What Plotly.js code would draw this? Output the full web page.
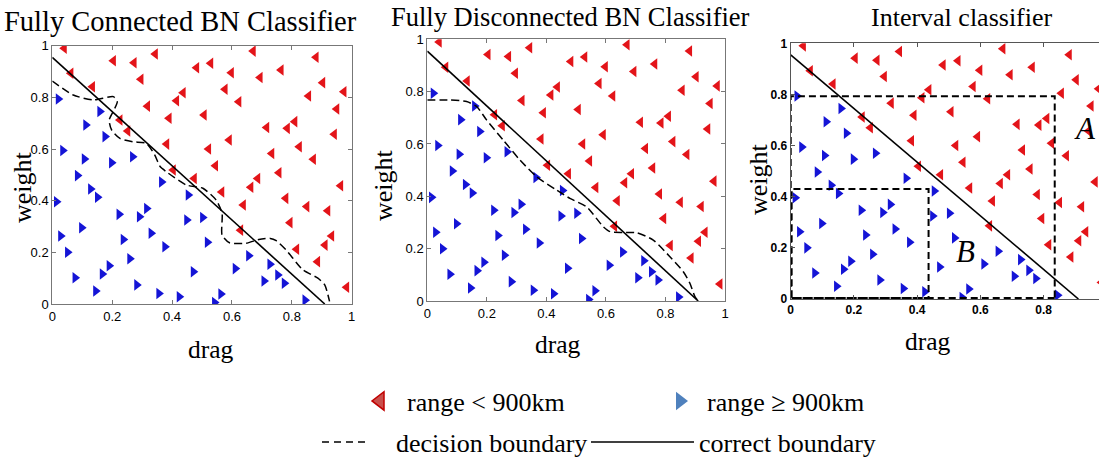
<!DOCTYPE html>
<html>
<head>
<meta charset="utf-8">
<script src="https://cdn.plot.ly/plotly-3.0.1.min.js"></script>
<style>html,body{margin:0;padding:0;background:#fff;}#chart{width:1099px;height:460px;}</style>
</head>
<body>
<div id="chart"></div>
<script>
// class: range < 900km (red, left-pointing triangles)
const redX = [0.040,0.062,0.134,0.204,0.273,0.296,0.344,0.318,0.226,0.252,0.390,0.415,0.437,0.482,0.529,0.507,0.382,0.404,0.474,0.522,0.545,0.577,0.598,0.623,0.591,0.566,0.671,0.694,0.764,0.716,0.785,0.810,0.733,0.757,0.686,0.663,0.638,0.629,0.780,0.825,0.872,0.856,0.881,0.903,0.950,0.942,0.974,0.963,0.850,0.920,0.794,0.933,0.816,0.911,0.886,0.983];
const redY = [0.990,0.893,0.841,0.942,0.934,0.870,0.968,0.766,0.712,0.670,0.719,0.787,0.818,0.915,0.932,0.732,0.619,0.519,0.486,0.600,0.535,0.831,0.895,0.783,0.635,0.434,0.979,0.877,0.906,0.683,0.680,0.706,0.583,0.508,0.486,0.452,0.383,0.286,0.409,0.609,0.560,0.805,0.955,0.857,0.755,0.657,0.822,0.458,0.377,0.361,0.315,0.263,0.212,0.228,0.164,0.065];
// class: range >= 900km (blue, right-pointing triangles)
const blueX = [0.020,0.159,0.112,0.176,0.035,0.107,0.198,0.268,0.084,0.128,0.151,0.014,0.365,0.454,0.223,0.291,0.315,0.449,0.502,0.098,0.028,0.051,0.237,0.330,0.376,0.518,0.259,0.190,0.167,0.076,0.145,0.282,0.356,0.424,0.471,0.542,0.563,0.611,0.656,0.727,0.707,0.753,0.775,0.844];
const blueY = [0.794,0.745,0.693,0.648,0.594,0.561,0.547,0.570,0.497,0.445,0.413,0.396,0.472,0.422,0.347,0.338,0.370,0.325,0.335,0.295,0.263,0.200,0.250,0.274,0.222,0.239,0.175,0.148,0.116,0.102,0.050,0.074,0.041,0.028,0.125,0.006,0.039,0.137,0.187,0.154,0.089,0.112,0.080,0.015];
// correct boundary
const cbX = [0, 0.91];
const cbY = [0.955, 0];
// decision boundary, fully connected BN
const db1X = [0,0.070,0.137,0.204,0.217,0.206,0.190,0.198,0.226,0.270,0.314,0.342,0.360,0.381,0.447,0.503,0.547,0.567,0.567,0.592,0.647,0.690,0.728,0.748,0.781,0.837,0.887,0.910,0.926];
const db1Y = [0.863,0.809,0.790,0.803,0.783,0.751,0.712,0.674,0.641,0.628,0.622,0.577,0.532,0.512,0.461,0.448,0.403,0.351,0.267,0.237,0.235,0.250,0.254,0.245,0.209,0.132,0.100,0.074,0.010];
// decision boundary, fully disconnected BN
const db2X = [0,0.076,0.132,0.166,0.199,0.255,0.311,0.367,0.434,0.479,0.535,0.591,0.614,0.658,0.703,0.759,0.815,0.860,0.882,0.899,0.910];
const db2Y = [0.768,0.768,0.762,0.743,0.692,0.615,0.539,0.475,0.424,0.392,0.360,0.284,0.265,0.262,0.261,0.233,0.169,0.112,0.068,0.017,0.0];
// interval boxes A and B
const boxAX = [0.835,0,0,0.835,0.835];
const boxAY = [0.004,0.004,0.793,0.793,0.004];
const boxBX = [0.003,0.436,0.436,0.003,0.003];
const boxBY = [0.004,0.004,0.430,0.430,0.004];
const tickVals = [0,0.2,0.4,0.6,0.8,1];
const tickText = ['0','0.2','0.4','0.6','0.8','1'];

const SERIF = 'Liberation Serif';
const SANS = 'Liberation Sans';
const RED = '#e31419';
const BLUE = '#1414d6';

const traces = [];
const axes = [['x','y'],['x2','y2'],['x3','y3']];
axes.forEach(function(a){
  traces.push({x: redX, y: redY, xaxis: a[0], yaxis: a[1], type: 'scatter', mode: 'markers',
    marker: {symbol: 'triangle-left', size: 10, color: RED, line: {width: 0}}, showlegend: false, hoverinfo: 'skip'});
  traces.push({x: blueX, y: blueY, xaxis: a[0], yaxis: a[1], type: 'scatter', mode: 'markers',
    marker: {symbol: 'triangle-right', size: 10, color: BLUE, line: {width: 0}}, showlegend: false, hoverinfo: 'skip'});
});
traces.push({x: db1X, y: db1Y, xaxis: 'x', yaxis: 'y', mode: 'lines', line: {color: '#000', width: 1.5, dash: '8px,4px', shape: 'spline', smoothing: 0.6}, showlegend: false});
traces.push({x: db2X, y: db2Y, xaxis: 'x2', yaxis: 'y2', mode: 'lines', line: {color: '#000', width: 1.5, dash: '8px,4px', shape: 'spline', smoothing: 0.6}, showlegend: false});
axes.forEach(function(a){
  traces.push({x: cbX, y: cbY, xaxis: a[0], yaxis: a[1], mode: 'lines', line: {color: '#000', width: 1.6}, showlegend: false});
});
traces.push({x: boxAX, y: boxAY, xaxis: 'x3', yaxis: 'y3', mode: 'lines', line: {color: '#000', width: 2, dash: '7px,4px'}, showlegend: false, cliponaxis: false});
traces.push({x: boxBX, y: boxBY, xaxis: 'x3', yaxis: 'y3', mode: 'lines', line: {color: '#000', width: 2, dash: '7px,4px'}, showlegend: false, cliponaxis: false});

// legend entries
traces.push({x: [null], y: [null], xaxis: 'x', yaxis: 'y', mode: 'markers', name: 'range < 900km', legend: 'legend',
  marker: {symbol: 'triangle-left', size: 17, color: '#c9504c', line: {color: '#c00000', width: 1.5}}});
traces.push({x: [null], y: [null], xaxis: 'x', yaxis: 'y', mode: 'markers', name: 'range \u2265 900km', legend: 'legend2',
  marker: {symbol: 'triangle-right', size: 17, color: '#4f81bd', line: {width: 0}}});
traces.push({x: [null], y: [null], xaxis: 'x', yaxis: 'y', mode: 'lines', name: '\u00a0\u00a0\u00a0\u00a0decision boundary', legend: 'legend3',
  line: {color: '#000', width: 1.5, dash: '7px,5px'}});
traces.push({x: [null], y: [null], xaxis: 'x', yaxis: 'y', mode: 'lines', name: 'correct boundary', legend: 'legend4',
  line: {color: '#000', width: 1.5}});

function px(v){ return v / 1099; }
function py(v){ return 1 - v / 460; }

function ax12(dom){
  return {domain: dom, range: [0, 1], tickvals: tickVals, ticktext: tickText, ticks: 'inside', ticklen: 4,
    tickcolor: '#777', showline: true, linecolor: '#777', linewidth: 1, mirror: 'ticks', showgrid: false, zeroline: false,
    tickfont: {family: SANS, size: 13, color: '#000'}, fixedrange: true, automargin: false};
}
const xa1 = ax12([px(52.3), px(351.7)]);
const ya1 = ax12([py(304), py(45.7)]);
const xa2 = ax12([px(427.3), px(725)]);
const ya2 = ax12([py(301), py(39.3)]);
const xa3 = {domain: [px(790.7), 1], range: [0, 0.975], tickvals: tickVals, ticktext: tickText, ticks: 'inside', ticklen: 4,
  tickcolor: '#555', showline: true, linecolor: '#555', linewidth: 1, mirror: 'ticks', showgrid: false, zeroline: false,
  tickfont: {family: SANS, size: 12, color: '#000', weight: 'bold'}, fixedrange: true, automargin: false};
const ya3 = {domain: [py(299), py(43.3)], range: [0, 1], tickvals: tickVals, ticktext: tickText, ticks: 'inside', ticklen: 4,
  tickcolor: '#555', showline: true, linecolor: '#555', linewidth: 1, mirror: false, showgrid: false, zeroline: false,
  tickfont: {family: SANS, size: 12, color: '#000', weight: 'bold'}, fixedrange: true, automargin: false};
xa2.anchor = 'y2'; ya2.anchor = 'x2';
xa3.anchor = 'y3'; ya3.anchor = 'x3';

function ann(text, x, y, size, opts){
  return Object.assign({text: text, x: px(x), y: py(y), xref: 'paper', yref: 'paper', showarrow: false,
    xanchor: 'center', yanchor: 'middle', borderpad: 0, font: {family: SERIF, size: size, color: '#000', weight: 'normal'}}, opts || {});
}

const annotations = [
  ann('Fully Connected BN Classifier', 180, 22, 28.5),
  ann('Fully Disconnected BN Classifier', 570, 17, 26.5),
  ann('Interval classifier', 962, 17, 26),
  ann('drag', 211, 349, 25.5),
  ann('drag', 558, 344, 25.5),
  ann('drag', 928, 341, 25.5),
  ann('weight', 22, 187, 26, {textangle: -90}),
  ann('weight', 383, 185, 26, {textangle: -90}),
  ann('weight', 758, 179, 26, {textangle: -90}),
  {text: 'A', x: 0.93, y: 0.665, xref: 'x3', yref: 'y3', showarrow: false, xanchor: 'center', yanchor: 'middle',
    font: {family: SERIF, size: 31, color: '#000', style: 'italic'}},
  {text: 'B', x: 0.552, y: 0.185, xref: 'x3', yref: 'y3', showarrow: false, xanchor: 'center', yanchor: 'middle',
    font: {family: SERIF, size: 31, color: '#000', style: 'italic'}}
];

function leg(x, y, iw){
  return {x: px(x), y: py(y), xanchor: 'left', yanchor: 'middle', orientation: 'h', itemwidth: iw,
    bgcolor: 'rgba(0,0,0,0)', borderwidth: 0, font: {family: SERIF, size: 26, color: '#000'}, itemsizing: 'trace', itemclick: false, itemdoubleclick: false};
}

const layout = {
  width: 1099, height: 460,
  margin: {l: 0, r: 0, t: 0, b: 0, autoexpand: false},
  paper_bgcolor: '#fff', plot_bgcolor: '#fff',
  showlegend: true,
  xaxis: xa1, yaxis: ya1, xaxis2: xa2, yaxis2: ya2, xaxis3: xa3, yaxis3: ya3,
  legend: leg(353, 401, 44),
  legend2: leg(653, 401, 44),
  legend3: leg(317, 442, 43),
  legend4: leg(586, 442, 103),
  annotations: annotations
};

Plotly.newPlot('chart', traces, layout, {displayModeBar: false, staticPlot: true});
</script>
</body>
</html>
